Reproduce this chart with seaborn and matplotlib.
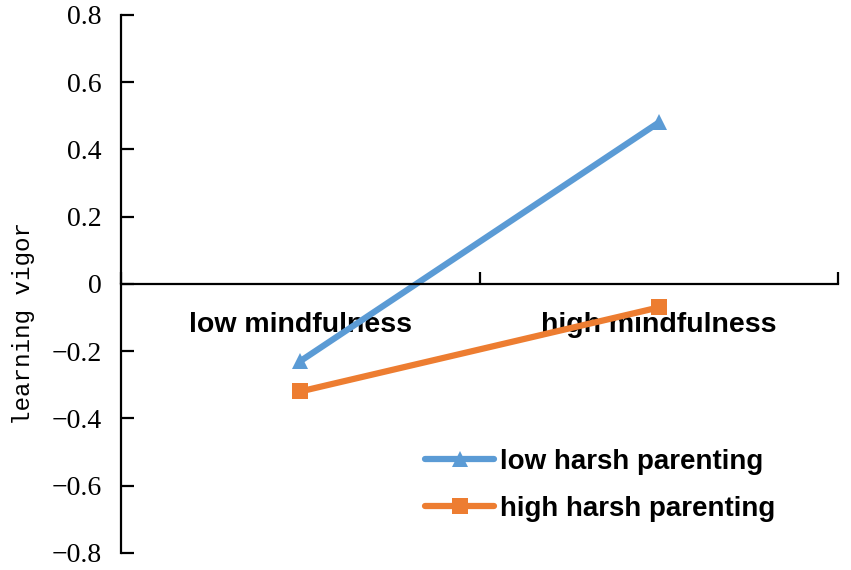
import matplotlib
matplotlib.use('Agg')

import matplotlib.pyplot as plt
import seaborn as sns
import pandas as pd

# dados
categorias = ["low mindfulness", "high mindfulness"]
grupos = ["low harsh parenting", "high harsh parenting"]
baixa_dureza = [-0.23, 0.48]
alta_dureza = [-0.32, -0.07]
yticks = [-0.8, -0.6, -0.4, -0.2, 0, 0.2, 0.4, 0.6, 0.8]
ytick_labels = ["\u22120.8", "\u22120.6", "\u22120.4", "\u22120.2", "0", "0.2", "0.4", "0.6", "0.8"]

df = pd.DataFrame({
    "mindfulness": categorias * 2,
    "vigor": baixa_dureza + alta_dureza,
    "grupo": [grupos[0]] * 2 + [grupos[1]] * 2,
})

cores = {grupos[0]: "#5B9BD5", grupos[1]: "#ED7D31"}
marcadores = {grupos[0]: "^", grupos[1]: "s"}

sns.set_style("white")
plt.rcParams["text.color"] = "black"
plt.rcParams["xtick.color"] = "black"
plt.rcParams["ytick.color"] = "black"
plt.rcParams["axes.labelcolor"] = "black"

fig = plt.figure(figsize=(8.51, 5.70), dpi=100)
ax = fig.add_axes([0.142, 0.030, 0.843, 0.944])

sns.lineplot(data=df, x="mindfulness", y="vigor", hue="grupo", style="grupo",
             palette=cores, markers=marcadores, dashes=False, sort=False,
             linewidth=4.5, markersize=12, markeredgewidth=0, ax=ax)

ax.set_xlim(-0.5, 1.5)
ax.set_ylim(-0.8, 0.8)

# eixos estilo Excel
for lado in ["top", "right"]:
    ax.spines[lado].set_visible(False)
ax.spines["bottom"].set_position(("data", 0))
for lado in ["left", "bottom"]:
    ax.spines[lado].set_linewidth(1.6)
    ax.spines[lado].set_color("black")

ax.set_yticks(yticks)
ax.set_yticklabels(ytick_labels, fontfamily="Liberation Serif", fontsize=20)
ax.tick_params(axis="y", direction="in", length=9, width=1.6, pad=14, left=True)

ax.set_xticks([-0.5, 0.5, 1.5], minor=True)
ax.tick_params(axis="x", which="minor", direction="in", length=9, width=1.6, bottom=True)
ax.tick_params(axis="x", which="major", length=0, pad=20, bottom=True)
for t in ax.get_xticklabels():
    t.set_fontfamily("Liberation Sans")
    t.set_fontweight("bold")
    t.set_fontsize(20.5)

ax.set_xlabel("")
ax.set_ylabel("learning vigor", fontfamily="Liberation Mono", fontsize=17.5)
ax.yaxis.set_label_coords(-0.119, 0.427)

handles, labels = ax.get_legend_handles_labels()
for h in handles:
    h.set_linewidth(4.5)
    h.set_markersize(12)
    h.set_markeredgewidth(0)
ax.legend(handles, labels, loc="upper left", bbox_to_anchor=(0.389, 0.24),
          frameon=False, handlelength=2.5, handletextpad=0.2, labelspacing=0.75,
          prop={"family": "Liberation Sans", "weight": "bold", "size": 20})

plt.savefig("out.png", dpi=100)
plt.close()
